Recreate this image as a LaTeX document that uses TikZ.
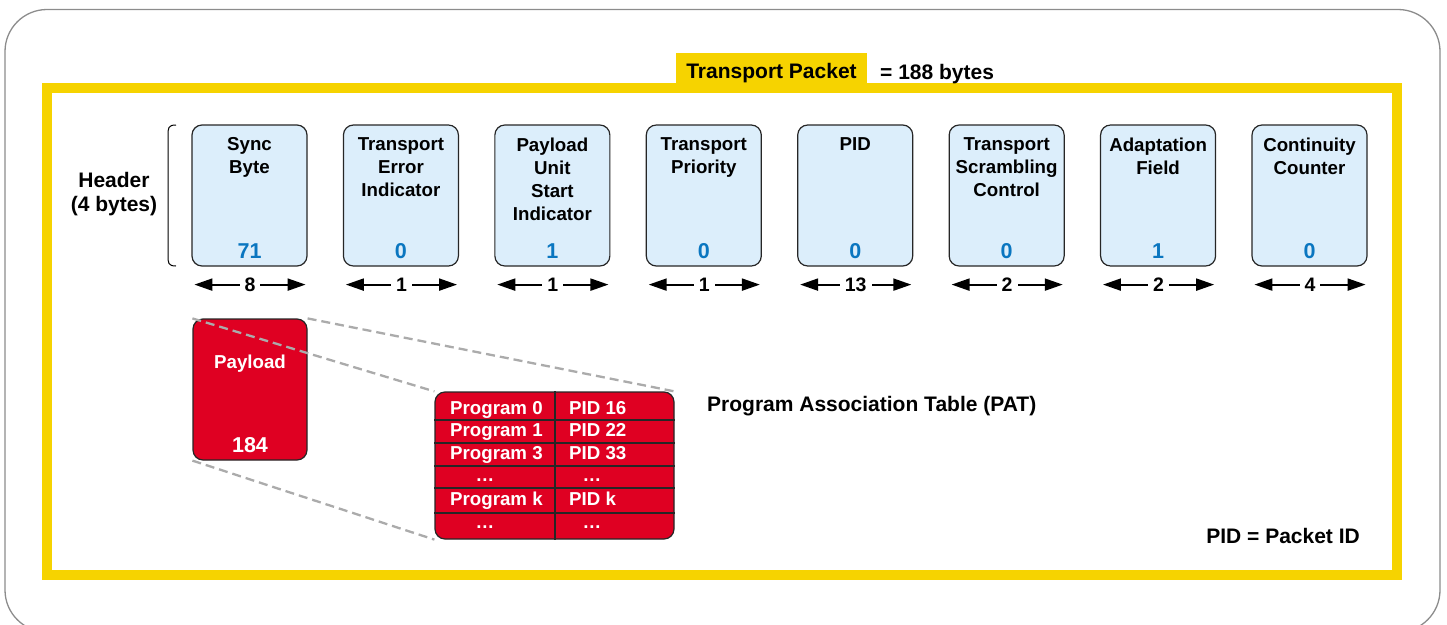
\documentclass[tikz,border=0pt]{standalone}
\usepackage{fontspec}
\setmainfont{Liberation Sans}
\usetikzlibrary{arrows.meta}
\definecolor{tpyellow}{HTML}{F6D300}
\definecolor{fieldblue}{HTML}{DCEEFB}
\definecolor{valblue}{HTML}{0A76C0}
\definecolor{patred}{HTML}{DF0022}
\definecolor{rimgray}{HTML}{8C8C8C}
\definecolor{zoomgray}{HTML}{ABABAB}

\begin{document}
\begin{tikzpicture}[x=1pt,y=-1pt,
  fieldbox/.style={draw=black!85, line width=1.2pt, fill=fieldblue, rounded corners=10pt,
    minimum width=115pt, minimum height=141pt, inner sep=0pt},
  fieldtitle/.style={font=\fontsize{18.7}{23}\selectfont\bfseries, align=center, anchor=north, inner sep=0pt},
  fieldval/.style={font=\fontsize{21.5}{25}\selectfont\bfseries, text=valblue, anchor=base, inner sep=0pt},
  bitarrow/.style={line width=2pt, {Triangle[length=18pt,width=12pt]}-{Triangle[length=18pt,width=12pt]}},
  bitlabel/.style={font=\fontsize{19.5}{23}\selectfont\bfseries, fill=white, inner xsep=5pt, inner ysep=1pt},
  bigtext/.style={font=\fontsize{21}{24}\selectfont\bfseries, inner sep=0pt},
  redbox/.style={draw=black!85, line width=1.2pt, fill=patred, rounded corners=10pt, inner sep=0pt},
  cell/.style={text=white, font=\fontsize{18.7}{22}\selectfont\bfseries, inner sep=0pt},
  gridline/.style={draw=black!85, line width=1.1pt},
  zoomline/.style={draw=zoomgray, line width=2.3pt, dash pattern=on 9pt off 5pt}
]
\useasboundingbox (0,0) rectangle (1447,624);

% outer rounded panel
\draw[rimgray, line width=1.3pt, rounded corners=42pt] (5,9.5) rectangle (1440,632);

% yellow packet frame with its title tab
\draw[tpyellow, line width=10pt] (47,88) rectangle (1397,575);
\fill[tpyellow] (676,53) rectangle (867,88);
\node[bigtext, anchor=base] (tptitle) at (771.5,78.5) {Transport Packet};
\node[bigtext, anchor=base west] (tpsize) at (880,79) {= 188 bytes};

% header label and bracket
\node[bigtext, align=center] (hdr) at (114,194) {Header\\(4 bytes)};
\draw[line width=1pt] (176,125) .. controls (168,125) and (168,128) .. (168,136) -- (168,255)
  .. controls (168,263) and (168,266) .. (176,266);

% header fields
\foreach \i/\title/\val/\bits in {
  0/{Sync\\Byte}/71/8,
  1/{Transport\\Error\\Indicator}/0/1,
  2/{Payload\\Unit\\Start\\Indicator}/1/1,
  3/{Transport\\Priority}/0/1,
  4/{PID}/0/13,
  5/{Transport\\Scrambling\\Control}/0/2,
  6/{Adaptation\\Field}/1/2,
  7/{Continuity\\Counter}/0/4}{
  \node[fieldbox] (f\i) at (249.5+151.43*\i,195.5) {};
  \node[fieldtitle] (t\i) at ([yshift=-13pt]f\i.north) {\title};
  \node[fieldval] (v\i) at ([yshift=8.5pt]f\i.south) {\val};
  \coordinate (al\i) at ([shift={(3,18)}]f\i.south west);
  \coordinate (ar\i) at ([shift={(-2,18)}]f\i.south east);
  \draw[bitarrow] (al\i) -- (ar\i) node[midway, bitlabel] (b\i) {\bits};
}

% payload
\node[redbox, minimum width=114pt, minimum height=141pt] (pay) at (250,389.5) {};
\node[cell, anchor=base] (payname) at (250,368.5) {Payload};
\node[cell, font=\fontsize{21.5}{25}\selectfont\bfseries, anchor=base] (paylen) at (250,452.5) {184};

% program association table
\node[redbox, minimum width=239pt, minimum height=147pt] (pat) at (554.5,465.5) {};
\foreach \y in {420,443,466,488,513}
  \draw[gridline] (pat.west |- 0,\y) -- (pat.east |- 0,\y);
\draw[gridline] (555,0 |- pat.north) -- (555,0 |- pat.south);

\foreach \y/\prog/\pid in {414.5/Program 0/PID 16, 436.5/Program 1/PID 22,
                           459.5/Program 3/PID 33, 505.5/Program k/PID k}{
  \node[cell, anchor=base west] at (450,\y) {\prog};
  \node[cell, anchor=base west] at (569,\y) {\pid};
}
\foreach \y in {481,528}{
  \node[cell, anchor=base] at (485,\y) {…};
  \node[cell, anchor=base] at (592,\y) {…};
}

% zoom lines from the payload to the table
\draw[zoomline] (pay.north west) -- (pat.north west);
\draw[zoomline] (pay.north east) -- (pat.north east);
\draw[zoomline] (pay.south west) -- (pat.south west);

\node[bigtext, anchor=base west] (patname) at (707,411.5) {Program Association Table (PAT)};
\node[bigtext, anchor=base east] (pidnote) at (1360,543.5) {PID = Packet ID};
\end{tikzpicture}
\end{document}
